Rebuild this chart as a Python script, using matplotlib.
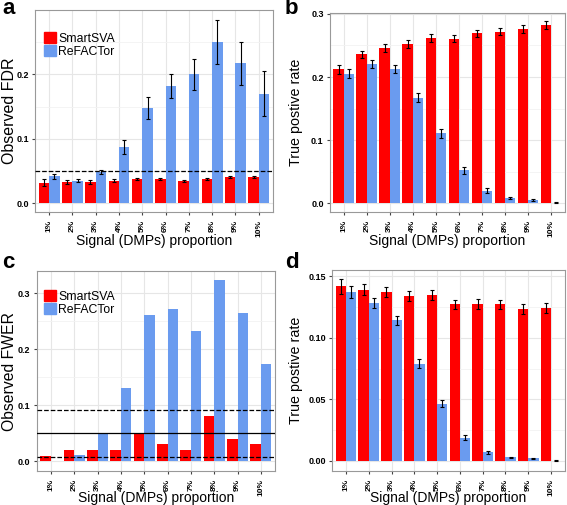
import numpy as np
import matplotlib.pyplot as plt
from matplotlib.patches import Patch

plt.rcParams['font.family'] = ['Liberation Sans', 'DejaVu Sans']

labels = ['1%', '2%', '3%', '4%', '5%', '6%', '7%', '8%', '9%', '10%']
red = '#FF0000'
blue = '#6A9BEF'

# a: observed FDR
fdr_smart = [0.032, 0.033, 0.033, 0.035, 0.0375, 0.0375, 0.035, 0.0375, 0.0405, 0.0405]
fdr_smart_err = [0.005, 0.003, 0.003, 0.002, 0.002, 0.002, 0.0015, 0.0015, 0.002, 0.0015]
fdr_refac = [0.042, 0.035, 0.049, 0.087, 0.148, 0.182, 0.200, 0.250, 0.217, 0.170]
fdr_refac_err = [0.004, 0.002, 0.003, 0.011, 0.017, 0.019, 0.024, 0.034, 0.034, 0.035]

# b: true positive rate
tpr1_smart = [0.212, 0.236, 0.246, 0.252, 0.262, 0.261, 0.269, 0.272, 0.276, 0.282]
tpr1_smart_err = [0.007, 0.006, 0.006, 0.006, 0.006, 0.005, 0.006, 0.006, 0.006, 0.006]
tpr1_refac = [0.205, 0.221, 0.213, 0.167, 0.111, 0.052, 0.020, 0.0085, 0.0055, 0.001]
tpr1_refac_err = [0.007, 0.006, 0.006, 0.007, 0.007, 0.005, 0.004, 0.002, 0.0015, 0.0005]

# c: observed FWER
fwer_smart = [0.009, 0.02, 0.02, 0.02, 0.05, 0.03, 0.02, 0.08, 0.04, 0.03]
fwer_refac = [0.0005, 0.01, 0.05, 0.13, 0.26, 0.272, 0.232, 0.323, 0.265, 0.173]

# d: true positive rate
tpr2_smart = [0.1416, 0.139, 0.137, 0.134, 0.135, 0.127, 0.1276, 0.127, 0.1235, 0.1243]
tpr2_smart_err = [0.006, 0.0045, 0.004, 0.004, 0.004, 0.004, 0.004, 0.004, 0.004, 0.004]
tpr2_refac = [0.137, 0.128, 0.114, 0.079, 0.0465, 0.019, 0.007, 0.003, 0.002, 0.0003]
tpr2_refac_err = [0.005, 0.004, 0.004, 0.0035, 0.003, 0.002, 0.001, 0.0004, 0.0003, 0.0002]

x = np.arange(1, 11)
w = 0.45

fig = plt.figure(figsize=(5.67, 5.05), dpi=100)
ax_a = fig.add_axes([0.062, 0.580, 0.419, 0.400])
ax_b = fig.add_axes([0.582, 0.580, 0.414, 0.395])
ax_c = fig.add_axes([0.065, 0.067, 0.420, 0.396])
ax_d = fig.add_axes([0.586, 0.067, 0.410, 0.398])


def style(ax, ylim, ticks, ticklabels, minor, ylabel, ylab_x, ylab_size, xlab_y):
    ax.set_xlim(0.4, 10.6)
    ax.set_ylim(*ylim)
    ax.set_xticks(x)
    ax.set_xticklabels(labels, rotation=90, fontsize=6, fontweight='bold')
    ax.set_yticks(ticks)
    ax.set_yticklabels(ticklabels, fontsize=6.5, fontweight='bold')
    ax.set_yticks(minor, minor=True)
    ax.tick_params(which='minor', length=0)
    ax.tick_params(which='major', length=2.5, color='#444444', pad=2)
    ax.tick_params(axis='x', pad=3)
    ax.grid(True, which='major', color='#E6E6E6', lw=0.8, zorder=0)
    ax.grid(True, which='minor', axis='y', color='#F2F2F2', lw=0.6, zorder=0)
    ax.set_axisbelow(True)
    for s in ax.spines.values():
        s.set_color('#999999')
        s.set_linewidth(0.8)
    ax.set_xlabel('Signal (DMPs) proportion', fontsize=10, va='top')
    ax.xaxis.set_label_coords(0.5, xlab_y)
    ax.set_ylabel(ylabel, fontsize=ylab_size)
    ax.yaxis.set_label_coords(ylab_x, 0.5)


def bars(ax, smart, refac, smart_err=None, refac_err=None):
    ax.bar(x - w / 2, smart, w, color=red, zorder=2)
    ax.bar(x + w / 2, refac, w, color=blue, zorder=2)
    if smart_err is not None:
        ax.errorbar(x - w / 2, smart, yerr=smart_err, fmt='none', ecolor='black',
                    elinewidth=0.8, capsize=1.3, capthick=0.8, zorder=3)
        ax.errorbar(x + w / 2, refac, yerr=refac_err, fmt='none', ecolor='black',
                    elinewidth=0.8, capsize=1.3, capthick=0.8, zorder=3)


def legend(ax, anchor):
    handles = [Patch(color=red, label='SmartSVA'), Patch(color=blue, label='ReFACTor')]
    ax.legend(handles=handles, loc='upper left', bbox_to_anchor=anchor,
              frameon=False, fontsize=8.8, handlelength=1.0, handleheight=1.0,
              handletextpad=0.15, labelspacing=0.0, borderaxespad=0, borderpad=0)


bars(ax_a, fdr_smart, fdr_refac, fdr_smart_err, fdr_refac_err)
ax_a.axhline(0.05, color='black', ls='--', lw=0.9, zorder=4)
style(ax_a, (-0.014, 0.30), [0, 0.1, 0.2], ['0.0', '0.1', '0.2'],
      [0.05, 0.15, 0.25], 'Observed FDR', -0.076, 11.5, -0.108)
legend(ax_a, (0.038, 0.89))

bars(ax_b, tpr1_smart, tpr1_refac, tpr1_smart_err, tpr1_refac_err)
style(ax_b, (-0.014, 0.302), [0, 0.1, 0.2, 0.3], ['0.0', '0.1', '0.2', '0.3'],
      [0.05, 0.15, 0.25], 'True postive rate', -0.115, 10.3, -0.108)

bars(ax_c, fwer_smart, fwer_refac)
ax_c.axhline(0.05, color='black', ls='-', lw=0.9, zorder=4)
ax_c.axhline(0.092, color='black', ls='--', lw=0.9, zorder=4)
ax_c.axhline(0.007, color='black', ls='--', lw=0.9, zorder=4)
style(ax_c, (-0.018, 0.339), [0, 0.1, 0.2, 0.3], ['0.0', '0.1', '0.2', '0.3'],
      [0.05, 0.15, 0.25], 'Observed FWER', -0.084, 11.3, -0.098)
legend(ax_c, (0.03, 0.904))

bars(ax_d, tpr2_smart, tpr2_refac, tpr2_smart_err, tpr2_refac_err)
style(ax_d, (-0.0083, 0.1548), [0, 0.05, 0.10, 0.15], ['0.00', '0.05', '0.10', '0.15'],
      [0.025, 0.075, 0.125], 'True postive rate', -0.124, 10.3, -0.098)

# panel letters
for lx, ly, letter in [(2, 9, 'a'), (285, 9, 'b'), (2, 262, 'c'), (285, 262, 'd')]:
    fig.text(lx / 567, 1 - ly / 505, letter, fontsize=16, fontweight='bold',
             ha='left', va='center')

fig.savefig('out.png', dpi=100)
